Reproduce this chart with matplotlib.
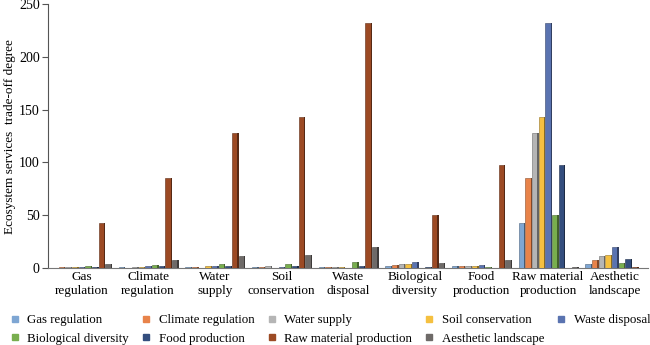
import matplotlib
matplotlib.use("Agg")
import matplotlib.pyplot as plt
import numpy as np
from matplotlib.lines import Line2D

plt.rcParams['font.family'] = ['Liberation Serif', 'DejaVu Serif']

categories = ["Gas\nregulation", "Climate\nregulation", "Water\nsupply", "Soil\nconservation",
              "Waste\ndisposal", "Biological\ndiversity", "Food\nproduction",
              "Raw material\nproduction", "Aesthetic\nlandscape"]
series = ["Gas regulation", "Climate regulation", "Water supply", "Soil conservation",
          "Waste disposal", "Biological diversity", "Food production",
          "Raw material production", "Aesthetic landscape"]
colors = ["#7EA6D3", "#E8834A", "#B5B5B5", "#F5C040", "#5A73B0",
          "#78AE4E", "#344E7E", "#9C4A24", "#6E6A68"]

# values[s][c]: series s in category c
values = [
    [0.0, 1.0, 1.0, 1.0, 1.0, 2.0, 1.5, 43, 4],     # Gas regulation
    [1.0, 0.0, 1.0, 1.0, 1.0, 3.0, 2.0, 85, 8],     # Climate regulation
    [1.0, 1.0, 0.0, 1.5, 1.0, 3.5, 2.0, 128, 11],   # Water supply
    [1.0, 1.0, 1.5, 0.0, 1.0, 4.0, 2.0, 143, 12],   # Soil conservation
    [1.0, 1.5, 1.5, 1.0, 0.0, 5.5, 3.0, 232, 20],   # Waste disposal
    [1.5, 2.5, 3.5, 4.0, 5.5, 0.0, 1.0, 50, 5],     # Biological diversity
    [1.0, 1.5, 2.0, 2.0, 2.0, 1.0, 0.0, 98, 9],     # Food production
    [43, 85, 128, 143, 232, 50, 98, 0.0, 1],        # Raw material production
    [4, 7.5, 11, 12, 20, 5, 8, 1, 0.0],             # Aesthetic landscape
]

yticks = [0, 50, 100, 150, 200, 250]

def darker(c, f=0.6):
    r, g, b = matplotlib.colors.to_rgb(c)
    return (r * f, g * f, b * f)

fig = plt.figure(figsize=(6.5, 3.45), dpi=100)
ax = fig.add_axes([0.074, 0.223, 0.923, 0.765])

n = len(series)
x = np.arange(len(categories))
group = 0.9
w = group / n
for i in range(n):
    pos = x - group / 2 + w * (i + 0.5)
    ax.bar(pos, values[i], width=w * 0.78, color=colors[i], edgecolor=darker(colors[i]),
           linewidth=0.4, zorder=3)
    ax.bar(pos + w * 0.39 + w * 0.09, values[i], width=w * 0.18, color=darker(colors[i], 0.55),
           linewidth=0, zorder=3)

ax.set_xlim(-0.5, len(categories) - 0.5)
ax.set_ylim(0, 250)
ax.set_yticks(yticks)
ax.set_xticks(x)
ax.set_xticklabels(categories, fontsize=9.5, linespacing=1.25)
ax.tick_params(axis='x', length=0, pad=2)
ax.tick_params(axis='y', labelsize=10, length=4, color='#555555', direction='out', pad=2)
for s in ['top', 'right']:
    ax.spines[s].set_visible(False)
ax.spines['left'].set_color('#555555')
ax.spines['bottom'].set_color('#777777')
ax.set_ylabel("Ecosystem services  trade-off degree", fontsize=9.5, labelpad=2)

# legend row-wise: reorder for column-major filling
order = [0, 5, 1, 6, 2, 7, 3, 8, 4]
handles = [Line2D([0], [0], marker='s', linestyle='none', markersize=4.5,
                  markerfacecolor=colors[k], markeredgecolor=colors[k]) for k in order]
labels = [series[k] for k in order]
fig.legend(handles, labels, loc='upper left', bbox_to_anchor=(9.7 / 650, 1 - 314 / 345), ncol=5,
           frameon=False, fontsize=9.3, handlelength=0.8, handletextpad=0.55,
           columnspacing=0.95, labelspacing=0.5, borderpad=0, borderaxespad=0)

fig.savefig("out.png", dpi=100)
